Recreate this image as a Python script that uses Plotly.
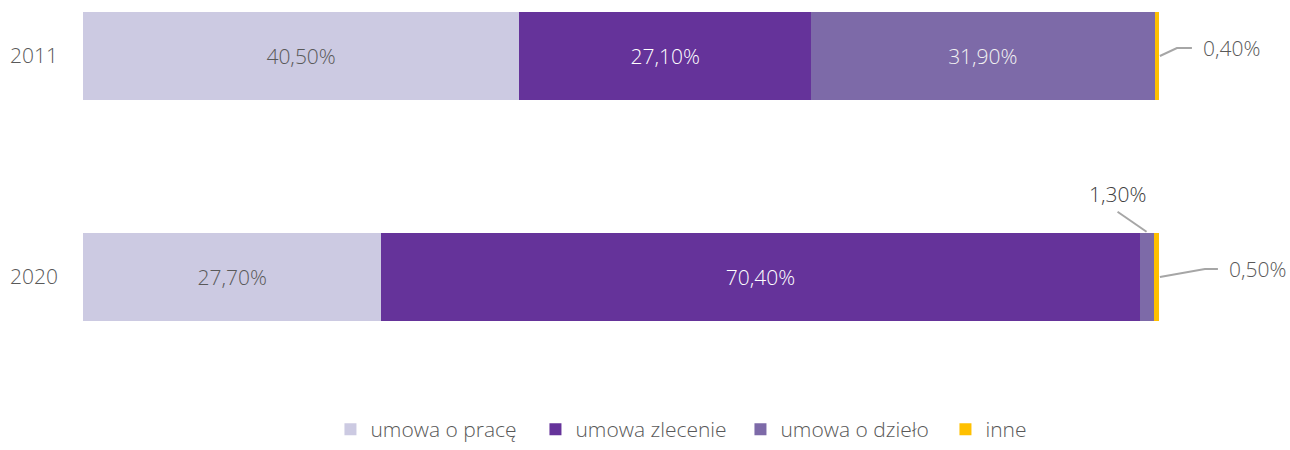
import plotly.graph_objects as go

years = ["2011", "2020"]
series_names = ["umowa o pracę", "umowa zlecenie", "umowa o dzieło", "inne"]
umowa_o_prace = [40.5, 27.7]
umowa_zlecenie = [27.1, 70.4]
umowa_o_dzielo = [31.9, 1.3]
inne = [0.4, 0.5]

colors = ["#CCCAE2", "#65339A", "#7D6AA8", "#FFC000"]
text_colors = ["#595959", "#FFFFFF", "#F2F2F2", "#595959"]
all_values = [umowa_o_prace, umowa_zlecenie, umowa_o_dzielo, inne]

FONT = "Open Sans"
GRAY = "#595959"
FS = 21
ypos = list(range(len(years)))

W, H = 1290, 450
ML, MB = 83, 60
PX_PER_PCT = 10.77
PX_PER_ROW = 221.0
plot_w = W - ML
plot_h = H - MB
x_max = plot_w / PX_PER_PCT
y_top = -56 / PX_PER_ROW
y_bot = y_top + plot_h / PX_PER_ROW


def fmt(v):
    return f"{v:.2f}".replace(".", ",") + "%"


fig = go.Figure()
for name, vals, col, tcol in zip(series_names, all_values, colors, text_colors):
    txt = [fmt(v) if v >= 5 else "" for v in vals]
    fig.add_trace(go.Bar(
        y=ypos, x=vals, name=name, orientation="h", width=0.4,
        marker=dict(color=col, line=dict(width=0)),
        text=txt, textposition="inside", insidetextanchor="middle",
        textfont=dict(family=FONT, size=FS, color=tcol, weight=300),
        hoverinfo="skip",
    ))

# callouts for the small segments
px_x = 1 / PX_PER_PCT
px_y = 1 / PX_PER_ROW
line_style = dict(color="#A6A6A6", width=2)

totals = [sum(v[i] for v in all_values) for i in range(len(years))]

# "inne" callouts (right of the bars)
offsets = [(18, 33, 42), (46, 59, 68)]
for i, (d1, d2, dt) in enumerate(offsets):
    xe = totals[i]
    y0 = ypos[i]
    dy = 8 * px_y
    fig.add_trace(go.Scatter(
        x=[xe + 1 * px_x, xe + d1 * px_x, xe + d2 * px_x],
        y=[y0, y0 - dy, y0 - dy], mode="lines", line=line_style,
        showlegend=False, hoverinfo="skip"))
    fig.add_annotation(x=xe + dt * px_x, y=y0 - dy, text=fmt(inne[i]),
                       showarrow=False, xanchor="left", yanchor="middle",
                       font=dict(family=FONT, size=FS, color=GRAY, weight=300))

# "umowa o dzieło" 2020 callout (above the bar)
i = 1
xmid = umowa_o_prace[i] + umowa_zlecenie[i] + umowa_o_dzielo[i] / 2
ytop = ypos[i] - 0.2
fig.add_trace(go.Scatter(
    x=[xmid, xmid - 29 * px_x], y=[ytop - 1 * px_y, ytop - 21 * px_y],
    mode="lines", line=line_style, showlegend=False, hoverinfo="skip"))
fig.add_annotation(x=xmid - 29 * px_x, y=ytop - 39 * px_y, text=fmt(umowa_o_dzielo[i]),
                   showarrow=False, xanchor="center", yanchor="middle",
                   font=dict(family=FONT, size=FS, color="#404040", weight=300))

fig.update_layout(
    width=W, height=H,
    margin=dict(l=ML, r=0, t=0, b=MB, autoexpand=False),
    barmode="stack",
    plot_bgcolor="white", paper_bgcolor="white",
    font=dict(family=FONT, color=GRAY, size=FS, weight=300),
    xaxis=dict(range=[0, x_max], visible=False, fixedrange=True),
    yaxis=dict(range=[y_bot, y_top], tickvals=ypos, ticktext=years,
               showgrid=False, zeroline=False, showline=False, ticks="",
               ticklabelstandoff=24, automargin=False, fixedrange=True,
               tickfont=dict(family=FONT, size=FS, color=GRAY, weight=300)),
    legend=dict(orientation="h", xref="container", yref="container",
                x=0.574, y=0.0, xanchor="center", yanchor="bottom",
                font=dict(family=FONT, size=FS, color=GRAY, weight=300),
                traceorder="normal", itemwidth=30, entrywidth=160),
    showlegend=True,
)

fig.write_html(
    "out.html",
    config={"displayModeBar": False},
    post_script="document.body.style.margin='0';document.body.style.overflow='hidden';",
)
